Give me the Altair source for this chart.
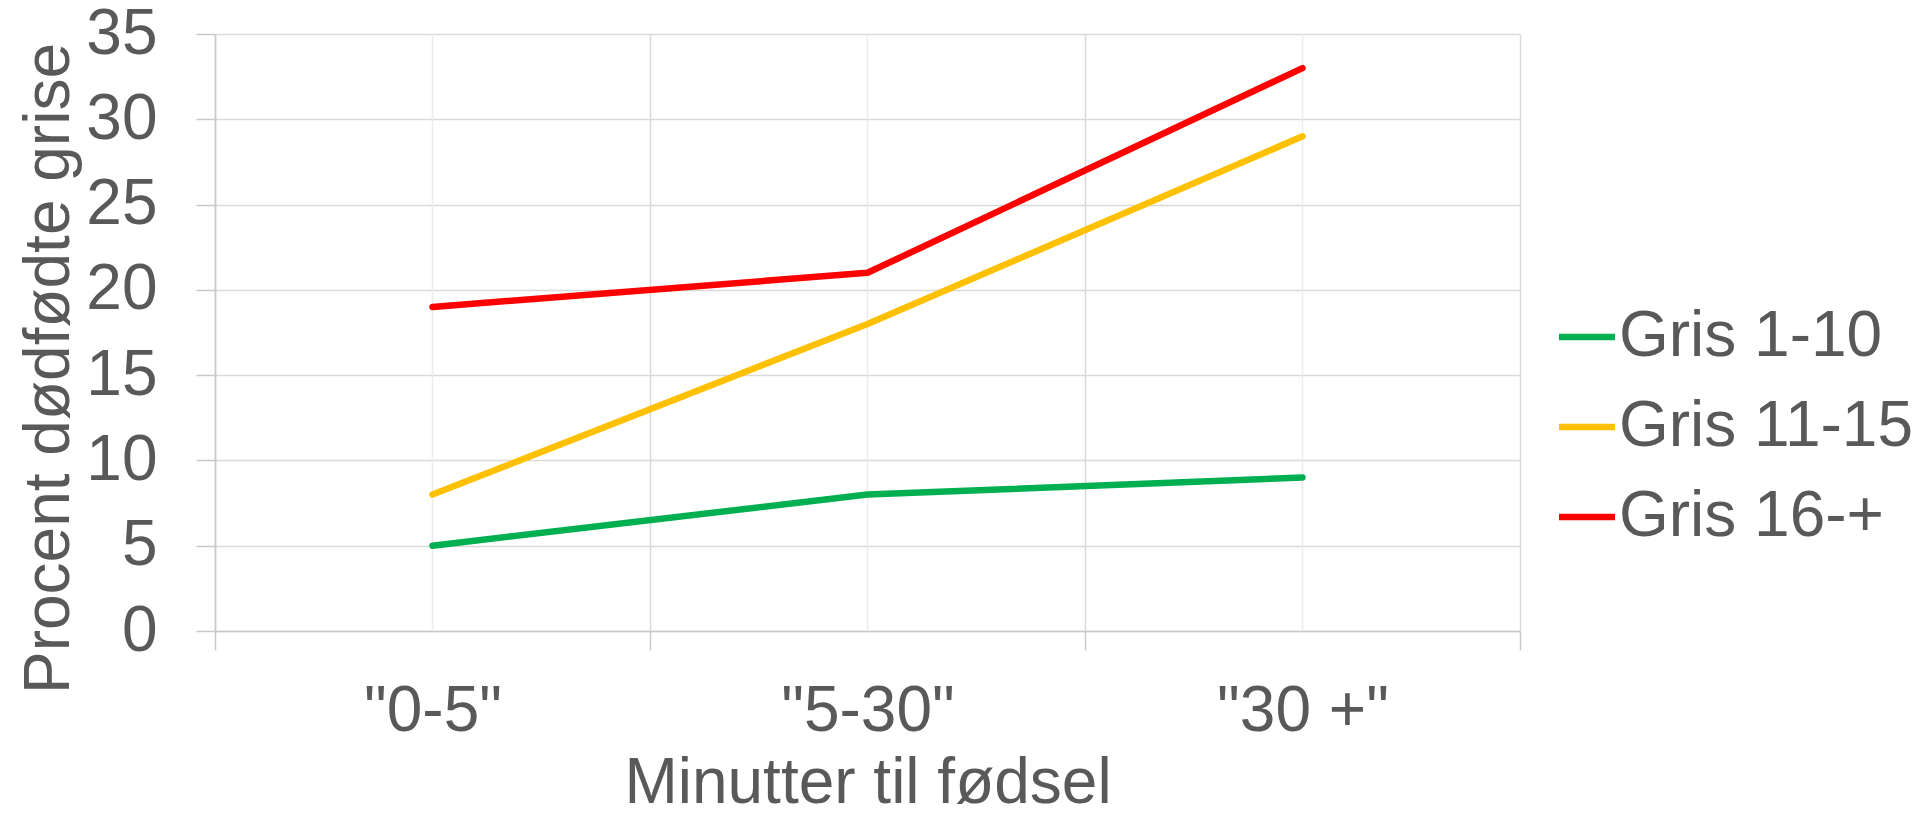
import altair as alt
import pandas as pd

categories = ['"0-5"', '"5-30"', '"30 +"']
series = ["Gris 1-10", "Gris 11-15", "Gris 16-+"]
gris_1_10 = [5, 8, 9]
gris_11_15 = [8, 18, 29]
gris_16_plus = [19, 21, 33]
colors = ["#00B050", "#FFC000", "#FF0000"]
y_ticks = [0, 5, 10, 15, 20, 25, 30, 35]

rows = []
for s, vals in zip(series, [gris_1_10, gris_11_15, gris_16_plus]):
    for c, v in zip(categories, vals):
        rows.append({"Tid": c, "Serie": s, "Procent": v})
df = pd.DataFrame(rows)
cat_df = pd.DataFrame({"Tid": categories})

FONT = "Liberation Sans"
TXT = "#595959"

xscale = alt.Scale(type="band", domain=categories, paddingInner=0, paddingOuter=0)
yscale = alt.Scale(domain=[0, 35], nice=False)

center_grid = alt.Chart(cat_df).mark_rule(color="#ececec", strokeWidth=1.5).encode(
    x=alt.X("Tid:N", scale=xscale, sort=categories),
    y=alt.datum(0),
    y2=alt.datum(35),
)

lines = alt.Chart(df).mark_line(strokeWidth=6.5, strokeCap="round", strokeJoin="round").encode(
    x=alt.X(
        "Tid:N",
        scale=xscale,
        sort=categories,
        axis=alt.Axis(
            title="Minutter til fødsel",
            tickBand="extent",
            labelAngle=0,
            labelAlign="center",
            labelFont=FONT,
            labelFontSize=64,
            labelColor=TXT,
            labelPadding=29,
            labelBaseline="top",
            tickSize=19,
            tickColor="#c8c8c8",
            tickWidth=1.5,
            grid=True,
            gridColor="#d9d9d9",
            gridWidth=1.5,
            domainColor="#c8c8c8",
            domainWidth=1.5,
            titleFont=FONT,
            titleFontSize=64,
            titleFontWeight="normal",
            titleColor=TXT,
            titleBaseline="alphabetic",
            titleAlign="center",
            titleX=652.5,
            titleY=171,
        ),
    ),
    y=alt.Y(
        "Procent:Q",
        scale=yscale,
        axis=alt.Axis(
            title="Procent dødfødte grise",
            values=y_ticks,
            labelFont=FONT,
            labelFontSize=64,
            labelColor=TXT,
            labelPadding=39,
            tickSize=19,
            tickColor="#c8c8c8",
            tickWidth=1.5,
            grid=True,
            gridColor="#d9d9d9",
            gridWidth=1.5,
            domainColor="#c8c8c8",
            domainWidth=1.5,
            titleFont=FONT,
            titleFontSize=64,
            titleFontWeight="normal",
            titleColor=TXT,
            titleAngle=270,
            titleBaseline="alphabetic",
            titleAlign="center",
            titleX=-147,
            titleY=334,
        ),
    ),
    color=alt.Color(
        "Serie:N",
        scale=alt.Scale(domain=series, range=colors),
        sort=series,
        legend=alt.Legend(
            title=None,
            orient="none",
            legendX=1340,
            legendY=271,
            symbolType="stroke",
            symbolSize=3136,
            symbolStrokeWidth=6.5,
            labelFont=FONT,
            labelFontSize=64,
            labelColor=TXT,
            labelOffset=0,
            rowPadding=26,
            labelLimit=400,
        ),
    ),
)

chart = (
    alt.layer(center_grid, lines)
    .properties(
        width=1305,
        height=597,
        autosize=alt.AutoSizeParams(type="none"),
        padding={"left": 207, "top": 26, "right": 398, "bottom": 173},
        background="white",
    )
    .configure_view(stroke=None)
)

chart.save("out.html", embed_options={"renderer": "svg", "actions": False})
